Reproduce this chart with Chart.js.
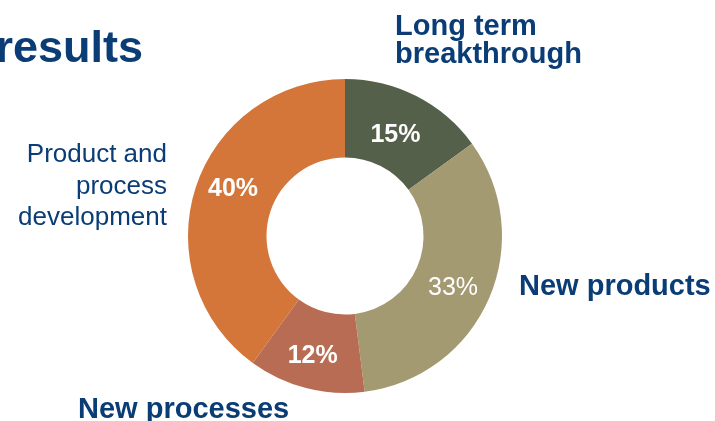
<!DOCTYPE html>
<html>
<head>
<meta charset="utf-8">
<script src="https://cdn.jsdelivr.net/npm/chart.js"></script>
<style>
  html, body { margin: 0; padding: 0; background: #fff; }
  #wrap { position: relative; width: 715px; height: 421px; overflow: hidden; }
</style>
</head>
<body>
<div id="wrap"><canvas id="myChart" width="715" height="421"></canvas></div>
<script>
// R&D portfolio split
const categories = ['Long term breakthrough', 'New products', 'New processes', 'Product and process development'];
const categoryLines = [['Long term', 'breakthrough'], ['New products'], ['New processes'], ['Product and', 'process', 'development']];
const shares = [15, 33, 12, 40];
const sliceColors = ['#55604a', '#a39a72', '#b96c54', '#d4763a'];
const titleText = 'results';

const navy = '#0a3c76';
const FONT = '"Liberation Sans", Arial, sans-serif';

// where each category name goes: x, first baseline, line step, align, weight, size
const labelSpots = [
  { x: 395, y: 35, step: 28, align: 'left', weight: 'bold', size: 29 },
  { x: 519, y: 295, step: 28, align: 'left', weight: 'bold', size: 29 },
  { x: 78, y: 418, step: 28, align: 'left', weight: 'bold', size: 29 },
  { x: 167, y: 162, step: 31.5, align: 'right', weight: 'normal', size: 26 }
];
// small nudges of the percentage text away from the arc centre
const pctNudge = [[-3, 4], [0, 5], [-3, 6], [0, -11]];
const pctWeight = ['bold', 'normal', 'bold', 'bold'];

const textPlugin = {
  id: 'textPlugin',
  afterDatasetsDraw(chart) {
    const ctx = chart.ctx;
    ctx.save();

    // percentage on each slice
    const meta = chart.getDatasetMeta(0);
    ctx.fillStyle = '#ffffff';
    ctx.textAlign = 'center';
    ctx.textBaseline = 'middle';
    meta.data.forEach((arc, i) => {
      const p = arc.getCenterPoint();
      ctx.font = pctWeight[i] + ' 25px ' + FONT;
      ctx.fillText(shares[i] + '%', p.x + pctNudge[i][0], p.y + pctNudge[i][1]);
    });

    // category names around the ring
    ctx.fillStyle = navy;
    ctx.textBaseline = 'alphabetic';
    categoryLines.forEach((lines, i) => {
      const s = labelSpots[i];
      ctx.font = s.weight + ' ' + s.size + 'px ' + FONT;
      ctx.textAlign = s.align;
      lines.forEach((line, k) => ctx.fillText(line, s.x, s.y + k * s.step));
    });

    // heading
    ctx.font = 'bold 45px ' + FONT;
    ctx.textAlign = 'right';
    ctx.fillText(titleText, 143, 62);
    ctx.restore();
  }
};

new Chart(document.getElementById('myChart').getContext('2d'), {
  type: 'doughnut',
  data: {
    labels: categories,
    datasets: [{
      data: shares,
      backgroundColor: sliceColors,
      borderWidth: 0
    }]
  },
  options: {
    responsive: false,
    animation: false,
    cutout: '50%',
    layout: { padding: { left: 188, right: 213, top: 79, bottom: 28 } },
    plugins: {
      legend: { display: false },
      tooltip: { enabled: false }
    }
  },
  plugins: [textPlugin]
});
</script>
</body>
</html>
